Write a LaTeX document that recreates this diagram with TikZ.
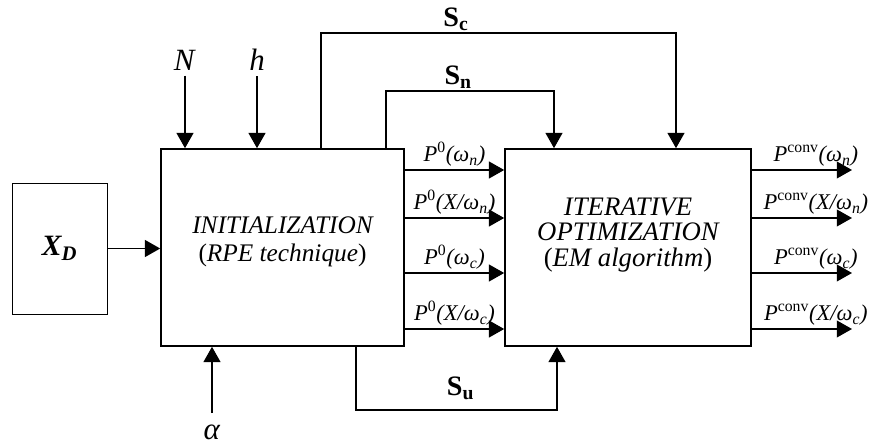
\documentclass[tikz,border=0pt]{standalone}
\usepackage{fontspec}
\setmainfont{Liberation Serif}
\usetikzlibrary{arrows.meta}

\tikzset{arr/.style = {-{Triangle[length = 0.38cm, width = 0.42cm]}}}
\tikzset{block/.style = {draw, minimum height = 4.925cm, align = center}}
\tikzset{lab/.style = {midway, above, inner sep = 2pt, font = \fontsize{16}{18}\selectfont}}
\tikzset{slab/.style = {above, inner sep = 1pt, font = \fontsize{20}{22}\selectfont\bfseries}}
\newcommand{\pzero}[1]{\textit{P\textsuperscript{\upshape 0}(#1)}}
\newcommand{\pconv}[1]{\textit{P\textsuperscript{\upshape conv}(#1)}}

\begin{document}
\begin{tikzpicture}[x = 0.025cm, y = -0.025cm, line width = 1.1pt, font = \fontsize{22}{24}\selectfont]
\useasboundingbox (0,0) rectangle (871,447);
\node [draw, thin, minimum width = 2.375cm, minimum height = 3.275cm, font = \fontsize{21}{24}\selectfont] (xd) at (59.5,248.5) {\textbf{\textit{X\textsubscript{D}}}};
\node [block, minimum width = 6.075cm, font = \fontsize{18}{20.5}\selectfont\itshape, text depth = 12pt] (init) at (282.5,247.5) {INITIALIZATION\\\textup{(}RPE technique\textup{)}};
\node [block, minimum width = 6.15cm, font = \fontsize{19}{18}\selectfont\itshape, text depth = 22pt] (iter) at (628,247.5) {ITERATIVE\\OPTIMIZATION\\\textup{(}EM algorithm\textup{)}};

% inputs
\node (N) at (185,60) {\textit{N}};
\node (h) at (257,60) {\textit{h}};
\node (alpha) at (212,432) {\textit{α}};
\draw [arr] (N) -- (init.north -| N);
\draw [arr] (h) -- (init.north -| h);
\draw [arr] (alpha.north) ++(0,-6) -- (init.south -| alpha);
\draw [arr] (xd.east) -- (init.west |- xd.east);

% rows
\foreach \y [count = \i] in {170,218,273,329} {
  \coordinate (r\i) at (0,\y);
  \coordinate (out\i) at (852,\y);
}
\draw [arr] (init.east |- r1) -- (iter.west |- r1) node [lab] {\pzero{ω\textsubscript{n}}};
\draw [arr] (init.east |- r2) -- (iter.west |- r2) node [lab] {\pzero{X/ω\textsubscript{n}}};
\draw [arr] (init.east |- r3) -- (iter.west |- r3) node [lab] {\pzero{ω\textsubscript{c}}};
\draw [arr] (init.east |- r4) -- (iter.west |- r4) node [lab] {\pzero{X/ω\textsubscript{c}}};
\draw [arr] (iter.east |- out1) -- (out1) node [lab, xshift = 0.35cm] {\pconv{ω\textsubscript{n}}};
\draw [arr] (iter.east |- out2) -- (out2) node [lab, xshift = 0.35cm] {\pconv{X/ω\textsubscript{n}}};
\draw [arr] (iter.east |- out3) -- (out3) node [lab, xshift = 0.35cm] {\pconv{ω\textsubscript{c}}};
\draw [arr] (iter.east |- out4) -- (out4) node [lab, xshift = 0.35cm] {\pconv{X/ω\textsubscript{c}}};

% feedback
\coordinate (sc) at (321,33);
\coordinate (sce) at (676,33);
\coordinate (sn) at (386,91);
\coordinate (sne) at (554,91);
\coordinate (su) at (356,410);
\coordinate (sue) at (557,410);
\draw [arr, line width = 0.9pt] (init.north -| sc) -- (sc) -- (sce) node [slab, pos = 0.38] {S\textsubscript{c}} -- (iter.north -| sce);
\draw [arr, line width = 0.9pt] (init.north -| sn) -- (sn) -- (sne) node [slab, pos = 0.43] {S\textsubscript{n}} -- (iter.north -| sne);
\draw [arr, line width = 0.9pt] (init.south -| su) -- (su) -- (sue) node [slab, pos = 0.52, yshift = 0.2cm] {S\textsubscript{u}} -- (iter.south -| sue);
\end{tikzpicture}
\end{document}
